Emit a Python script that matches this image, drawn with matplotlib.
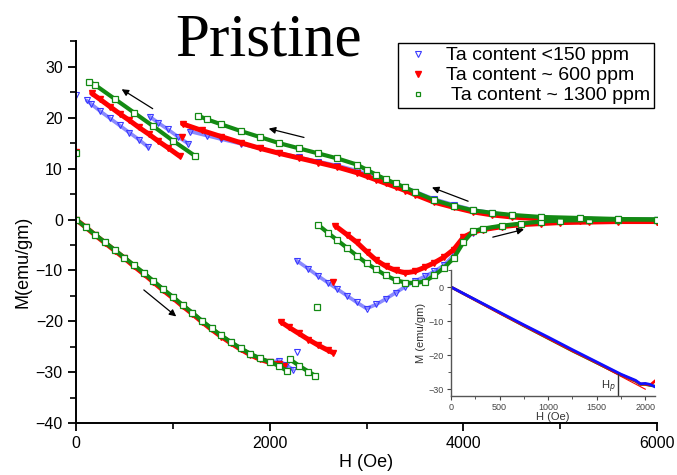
import matplotlib
matplotlib.use("Agg")
import matplotlib.pyplot as plt
from matplotlib.ticker import MultipleLocator

plt.rcParams['font.family'] = ['Liberation Sans', 'DejaVu Sans']

# ---- data (H in Oe, M in emu/gm) ----
# <150 ppm (blue)
blue_virgin_H = [0, 100, 200, 300, 400, 500, 600, 700, 800, 900, 1000, 1100, 1200, 1300, 1400,
                 1500, 1600, 1700, 1800, 1900, 2000, 2100, 2170, 2240]
blue_virgin_M = [0, -1.5, -3.0, -4.5, -6.0, -7.5, -9.1, -10.6, -12.2, -13.7, -15.3, -16.8, -18.4, -19.9,
                 -21.4, -22.8, -24.1, -25.3, -26.4, -27.3, -28.0, -27.8, -28.6, -29.5]
blue_dot_H = [2279, 0]
blue_dot_M = [-26.0, 24.5]
blue_up_H = [2280, 2400, 2500, 2600, 2700, 2800, 2900, 3000, 3100, 3200, 3300, 3400, 3500, 3600, 3700,
             3800, 3900, 4000, 4100, 4200, 4400, 4600, 4800, 5000, 5300, 5600, 6000]
blue_up_M = [-8.1, -9.7, -11.1, -12.4, -13.7, -15.0, -16.3, -17.5, -16.7, -15.6, -14.4, -13.2, -12.1,
             -11.2, -10.2, -9.0, -7.0, -3.8, -2.6, -2.0, -1.4, -1.0, -0.7, -0.4, -0.2, -0.1, 0.0]
blue_down_H = [6000, 5600, 5200, 4800, 4500, 4300, 4100, 3900, 3700, 3500, 3400, 3300, 3200, 3100, 3000,
               2900, 2700, 2500, 2300, 2100, 1900, 1700, 1500, 1350, 1180]
blue_down_M = [0.0, 0.1, 0.2, 0.4, 0.8, 1.3, 1.9, 2.9, 4.0, 5.5, 6.3, 7.0, 7.6, 8.3, 9.0, 9.6, 10.6,
               11.4, 12.2, 13.1, 14.0, 14.9, 15.8, 16.5, 17.3]
blue_jump1_H = [1160, 1050, 950, 850, 764]
blue_jump1_M = [14.9, 16.3, 17.7, 19.0, 20.2]
blue_jump2_H = [747, 650, 550, 450, 350, 250, 150, 110]
blue_jump2_M = [14.2, 15.7, 17.1, 18.5, 19.9, 21.3, 22.8, 23.4]

# ~600 ppm (red)
red_virgin_H = [0, 100, 200, 300, 400, 500, 600, 700, 800, 900, 1000, 1100, 1200, 1300, 1400,
                1500, 1600, 1700, 1800, 1900, 2000, 2100, 2150]
red_virgin_M = [0, -1.5, -3.1, -4.6, -6.1, -7.6, -9.2, -10.7, -12.3, -13.9, -15.4, -17.0, -18.5, -20.1,
                -21.6, -23.0, -24.3, -25.5, -26.6, -27.5, -28.1, -28.5, -28.8]
red_jumpA_H = [2114, 2200, 2300, 2400, 2500, 2600, 2657]
red_jumpA_M = [-20.1, -21.2, -22.4, -23.6, -24.7, -25.7, -26.2]
red_dot_H = [2657, 1091, 0]
red_dot_M = [-12.2, 16.3, 13.3]
red_up_H = [2675, 2800, 2900, 3000, 3100, 3200, 3300, 3400, 3500, 3600, 3700, 3800, 3900, 4000,
            4100, 4200, 4400, 4600, 4800, 5000, 5300, 5600, 6000]
red_up_M = [-1.2, -3.0, -4.5, -6.3, -8.0, -9.2, -10.0, -10.5, -10.2, -9.4, -8.5, -7.4, -5.9, -3.5,
            -2.5, -2.0, -1.4, -1.0, -0.8, -0.6, -0.5, -0.4, -0.4]
red_down_H = [6000, 5600, 5200, 4800, 4500, 4300, 4100, 3900, 3700, 3500, 3400, 3300, 3200, 3100, 3000,
              2900, 2700, 2500, 2300, 2100, 1900, 1700, 1500, 1300, 1100]
red_down_M = [-0.4, -0.3, -0.2, 0.1, 0.5, 0.9, 1.5, 2.4, 3.4, 4.9, 5.7, 6.4, 7.1, 7.8, 8.5, 9.2, 10.3,
              11.2, 12.1, 13.0, 14.0, 15.1, 16.3, 17.5, 18.8]
red_jump_H = [1074, 950, 850, 750, 650, 550, 450, 350, 250, 162]
red_jump_M = [12.4, 14.1, 15.4, 16.8, 18.1, 19.5, 20.8, 22.2, 23.6, 24.8]

# ~1300 ppm (green)
green_virgin_H = [0, 100, 200, 300, 400, 500, 600, 700, 800, 900, 1000, 1100, 1200, 1300, 1400,
                  1500, 1600, 1700, 1800, 1900, 2000, 2100, 2180]
green_virgin_M = [0, -1.5, -3.0, -4.5, -6.0, -7.5, -9.0, -10.5, -12.1, -13.7, -15.2, -16.8, -18.3, -19.9,
                  -21.4, -22.8, -24.1, -25.3, -26.4, -27.3, -28.0, -28.8, -29.8]
green_jumpA_H = [2210, 2300, 2400, 2468]
green_jumpA_M = [-27.5, -28.7, -29.9, -30.7]
green_dot_H = [2486, 0]
green_dot_M = [-17.2, 13.1]
green_up_H = [2503, 2600, 2700, 2800, 2900, 3000, 3100, 3200, 3300, 3400, 3500, 3600, 3700, 3800,
              3900, 4000, 4100, 4200, 4400, 4600, 4800, 5000, 5300, 5600, 6000]
green_up_M = [-1.1, -2.6, -4.1, -5.6, -7.1, -8.6, -9.8, -11.0, -11.9, -12.4, -12.5, -12.2, -11.0, -9.5,
              -7.6, -4.5, -2.3, -1.8, -1.2, -0.8, -0.4, -0.2, -0.1, 0.0, 0.0]
green_down_H = [6000, 5600, 5200, 4800, 4500, 4300, 4100, 3900, 3700, 3500, 3400, 3300, 3200, 3100, 3000,
                2900, 2700, 2500, 2300, 2100, 1900, 1700, 1500, 1350, 1263]
green_down_M = [0.0, 0.1, 0.3, 0.5, 0.9, 1.3, 1.8, 2.7, 3.8, 5.4, 6.3, 7.1, 7.9, 8.8, 9.8, 10.8, 12.0,
                13.0, 14.0, 15.0, 16.2, 17.4, 18.7, 19.7, 20.4]
green_jump_H = [1229, 1000, 800, 600, 400, 200, 138]
green_jump_M = [12.5, 15.5, 18.3, 21.0, 23.7, 26.4, 27.1]

# sweep direction arrows: (tail H, tail M, head H, head M)
arrows = [(816, 21.5, 447, 25.9),
          (2382, 16.0, 1962, 18.0),
          (4076, 3.4, 3649, 6.5),
          (4276, -3.6, 4654, -1.8),
          (678, -13.5, 1057, -19.4)]

# inset: initial magnetisation up to 2100 Oe
inset_H = [0, 250, 500, 750, 1000, 1250, 1500, 1750, 1900, 1950, 2000, 2050, 2100]
inset_blue_M = [0, -3.7, -7.4, -11.1, -14.7, -18.4, -22.0, -25.6, -27.4, -28.4, -28.3, -28.6, -29.3]
inset_red_M = [0, -3.8, -7.6, -11.3, -15.0, -18.7, -22.2, -25.8, -27.6, -28.5, -28.5, -28.8, -27.6]
inset_green_M = [0, -3.8, -7.6, -11.4, -15.1, -18.8, -22.3, -25.8, -27.7, -28.6, -28.6, -28.9, -29.1]
fit_H = [0, 2000]
fit_M = [0, -30]
hp_field = 1720
hp_M = -25.4

labels = ['Ta content <150 ppm', 'Ta content ~ 600 ppm', ' Ta content ~ 1300 ppm']

BLUE = '#3a3aff'
LIGHT_BLUE = '#8a8aff'
RED = '#ff0000'
GREEN = '#138a13'

fig = plt.figure(figsize=(6.77, 4.75), dpi=100)
ax = fig.add_axes([0.1123, 0.1095, 0.8582, 0.8032])

blue_line = dict(color=LIGHT_BLUE, lw=2.6, solid_capstyle='round')
blue_mark = dict(ls='none', marker='v', ms=4, mfc='none', mec=BLUE, mew=0.8)
red_line = dict(color=RED, lw=3.6, solid_capstyle='round')
red_mark = dict(ls='none', marker='v', ms=4.5, mfc=RED, mec=RED)
green_line = dict(color=GREEN, lw=3.0, solid_capstyle='butt')
green_mark = dict(ls='none', marker='s', ms=4.2, mfc='white', mec=GREEN, mew=0.9)

for H, M in [(blue_virgin_H, blue_virgin_M), (blue_up_H, blue_up_M), (blue_down_H, blue_down_M),
             (blue_jump1_H, blue_jump1_M), (blue_jump2_H, blue_jump2_M)]:
    ax.plot(H, M, **blue_line)
    ax.plot(H, M, **blue_mark)
ax.plot(blue_dot_H, blue_dot_M, **blue_mark)

for H, M in [(red_virgin_H, red_virgin_M), (red_jumpA_H, red_jumpA_M), (red_up_H, red_up_M),
             (red_down_H, red_down_M), (red_jump_H, red_jump_M)]:
    ax.plot(H, M, **red_line)
    ax.plot(H, M, **red_mark)
ax.plot(red_dot_H, red_dot_M, **red_mark)

for H, M in [(green_virgin_H, green_virgin_M), (green_jumpA_H, green_jumpA_M), (green_up_H, green_up_M),
             (green_down_H, green_down_M), (green_jump_H, green_jump_M)]:
    ax.plot(H, M, **green_line)
    ax.plot(H, M, **green_mark)
ax.plot(green_dot_H, green_dot_M, **green_mark)

for x0, y0, x1, y1 in arrows:
    ax.annotate('', xy=(x1, y1), xytext=(x0, y0),
                arrowprops=dict(arrowstyle='-|>', color='black', lw=0.9, mutation_scale=10))

ax.set_xlim(0, 6000)
ax.set_ylim(-40, 35)
ax.set_xticks([0, 2000, 4000, 6000])
ax.xaxis.set_minor_locator(MultipleLocator(1000))
ax.set_yticks(range(-40, 31, 10))
ax.yaxis.set_minor_locator(MultipleLocator(5))
for s in ['top', 'right']:
    ax.spines[s].set_visible(False)
for s in ['left', 'bottom']:
    ax.spines[s].set_linewidth(1.4)
ax.tick_params(which='major', direction='out', length=6, width=1.3, labelsize=11.5)
ax.tick_params(which='minor', direction='out', length=4, width=1.2)
ax.set_xlabel('H (Oe)', fontsize=13)
ax.xaxis.set_label_coords(0.5, -0.082)
ax.set_ylabel('M(emu/gm)', fontsize=13)
ax.yaxis.set_label_coords(-0.077, 0.422)

# legend with one proxy per sample
h_blue = plt.Line2D([], [], ls='none', marker='v', ms=4, mfc='none', mec=BLUE, mew=0.8)
h_red = plt.Line2D([], [], ls='none', marker='v', ms=4.5, mfc=RED, mec=RED)
h_green = plt.Line2D([], [], ls='none', marker='s', ms=3.5, mfc='none', mec=GREEN, mew=0.9)
leg = ax.legend([h_blue, h_red, h_green], labels, loc='upper left',
                bbox_to_anchor=(398 / 677, 1 - 43 / 475), bbox_transform=fig.transFigure,
                borderaxespad=0, fancybox=False, framealpha=1, edgecolor='black',
                fontsize=14, handlelength=1.66, handletextpad=0.6, labelspacing=0.12,
                borderpad=0.2)
leg.get_frame().set_linewidth(1.0)

fig.text(0.396, 0.884, 'Pristine', fontsize=44, family='Liberation Serif',
         ha='center', va='baseline')

# inset
axi = fig.add_axes([0.6662, 0.1663, 0.3013, 0.2653])
axi.plot(fit_H, fit_M, color=RED, lw=0.8)
axi.plot(inset_H, inset_green_M, color=GREEN, lw=2.0)
axi.plot(inset_H, inset_red_M, color=RED, lw=2.0)
axi.plot(inset_H, inset_blue_M, color='#1010ff', lw=2.0)
axi.plot([hp_field, hp_field], [hp_M, -32], color='#333333', lw=1.0)
axi.text(hp_field - 20, -29.2, 'H$_p$', fontsize=8, ha='right', va='center', color='#333333')
axi.set_xlim(0, 2100)
axi.set_ylim(-32, 5)
axi.set_xticks([0, 500, 1000, 1500, 2000])
axi.xaxis.set_minor_locator(MultipleLocator(250))
axi.set_yticks([0, -10, -20, -30])
axi.yaxis.set_minor_locator(MultipleLocator(5))
for s in ['top', 'right']:
    axi.spines[s].set_visible(False)
for s in ['left', 'bottom']:
    axi.spines[s].set_color('#555555')
    axi.spines[s].set_linewidth(1.0)
axi.tick_params(which='major', direction='out', length=3, width=0.8, labelsize=6.5,
                colors='#444444', pad=2)
axi.tick_params(which='minor', direction='out', length=2, width=0.7, colors='#555555')
axi.set_xlabel('H (Oe)', fontsize=8, labelpad=0, color='#333333')
axi.set_ylabel('M (emu/gm)', fontsize=8, labelpad=2, color='#333333')

fig.savefig('out.png', dpi=100)
